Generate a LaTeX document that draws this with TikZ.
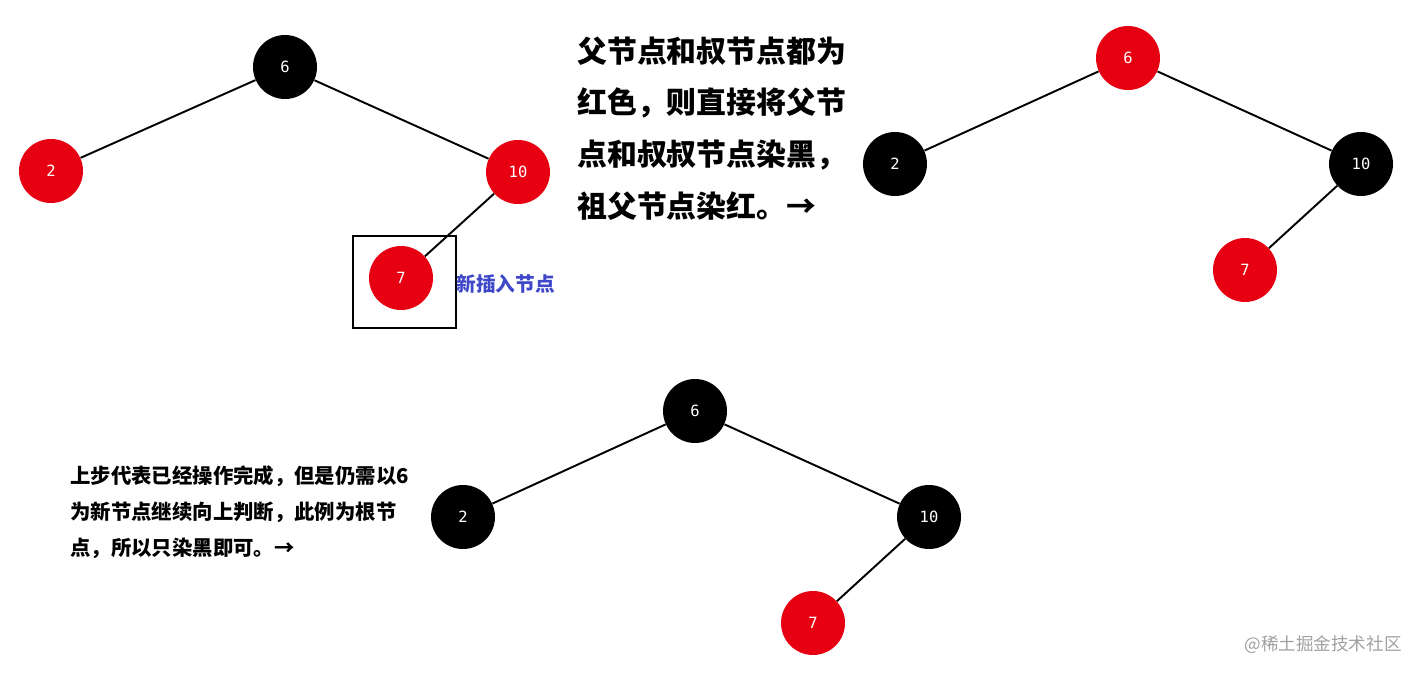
\documentclass[tikz,border=0pt]{standalone}
\usepackage{xcolor}
\usepackage{fontspec}
\usepackage{tikz}
\usetikzlibrary{positioning}
\newfontfamily\cjk{Noto Sans CJK SC}
\newfontfamily\nummono{DejaVu Sans Mono}
\definecolor{rbred}{RGB}{230,0,18}
\definecolor{newblue}{RGB}{62,72,200}
\definecolor{markgray}{RGB}{160,160,160}
\tikzset{
  rbnode/.style={circle, minimum size=1.28cm, inner sep=0pt,
                 font=\nummono\fontsize{8.8}{8.8}\selectfont, text=white},
  rednode/.style={rbnode, fill=rbred},
  blacknode/.style={rbnode, fill=black},
  link/.style={line width=1.1pt, black},
  note/.style={font=\cjk\bfseries\fontsize{17}{29.5}\selectfont, anchor=west,
               align=left, inner sep=0pt},
  smallnote/.style={font=\cjk\bfseries\fontsize{11.6}{20.4}\selectfont, anchor=west,
                    align=left, inner sep=0pt},
  newlbl/.style={font=\cjk\bfseries\fontsize{11.2}{11.2}\selectfont, text=newblue,
                 anchor=west, inner sep=0pt},
  newbox/.style={draw, line width=0.6pt, minimum width=2.06cm, minimum height=1.84cm,
                 inner sep=0pt},
  watermark/.style={font=\cjk\fontsize{10}{10}\selectfont, text=markgray,
                    anchor=east, inner sep=0pt}
}
\begin{document}
\begin{tikzpicture}[x=0.02cm, y=-0.02cm]
\useasboundingbox (0,0) rectangle (1422,675);
% insert 7 under red parent 10
\node[blacknode] (a6) at (285,67) {6};
\node[rednode] (a2) at (51,171) {2};
\node[rednode] (a10) at (518,172) {10};
\node[rednode] (a7) at (401,278) {7};
\node[newbox] (abox) at (404.5,282) {};
\node[newlbl] (albl) at (456,284) {新插入节点};
\draw[link] (a6) -- (a2);
\draw[link] (a6) -- (a10);
\draw[link] (a10) -- (a7);
\node[note] (t1) at (577,128.5) {父节点和叔节点都为\\红色，则直接将父节\\点和叔叔节点染黑，\\祖父节点染红。→};
% recolor
\node[rednode] (b6) at (1128,58) {6};
\node[blacknode] (b2) at (895,164) {2};
\node[blacknode] (b10) at (1361,164) {10};
\node[rednode] (b7) at (1245,270) {7};
\draw[link] (b6) -- (b2);
\draw[link] (b6) -- (b10);
\draw[link] (b10) -- (b7);
% root back to black
\node[smallnote] (t2) at (70,512) {上步代表已经操作完成，但是仍需以6\\为新节点继续向上判断，此例为根节\\点，所以只染黑即可。→};
\node[blacknode] (c6) at (695,411) {6};
\node[blacknode] (c2) at (463,517) {2};
\node[blacknode] (c10) at (929,517) {10};
\node[rednode] (c7) at (813,623) {7};
\draw[link] (c6) -- (c2);
\draw[link] (c6) -- (c10);
\draw[link] (c10) -- (c7);
\node[watermark] (wm) at (1402,645) {@稀土掘金技术社区};
\end{tikzpicture}
\end{document}
